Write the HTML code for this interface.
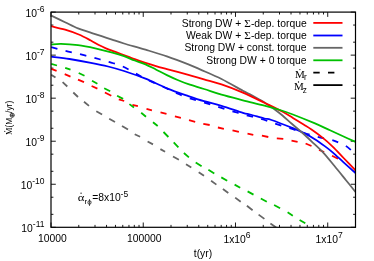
<!DOCTYPE html><html><head><meta charset="utf-8"><style>html,body{margin:0;padding:0;background:#fff}svg{display:block;will-change:transform}</style></head><body><svg width="374" height="261" viewBox="0 0 374 261">
<rect width="374" height="261" fill="#fff"/>
<defs><clipPath id="c"><rect x="51.0" y="12.1" width="304.5" height="215.2"/></clipPath></defs>
<path d="M51.00,227.30 v-4.80 M51.00,12.10 v4.80 M78.77,227.30 v-2.40 M78.77,12.10 v2.40 M95.01,227.30 v-2.40 M95.01,12.10 v2.40 M106.54,227.30 v-2.40 M106.54,12.10 v2.40 M115.48,227.30 v-2.40 M115.48,12.10 v2.40 M122.78,227.30 v-2.40 M122.78,12.10 v2.40 M128.96,227.30 v-2.40 M128.96,12.10 v2.40 M134.30,227.30 v-2.40 M134.30,12.10 v2.40 M139.02,227.30 v-2.40 M139.02,12.10 v2.40 M143.24,227.30 v-4.80 M143.24,12.10 v4.80 M171.01,227.30 v-2.40 M171.01,12.10 v2.40 M187.26,227.30 v-2.40 M187.26,12.10 v2.40 M198.78,227.30 v-2.40 M198.78,12.10 v2.40 M207.72,227.30 v-2.40 M207.72,12.10 v2.40 M215.02,227.30 v-2.40 M215.02,12.10 v2.40 M221.20,227.30 v-2.40 M221.20,12.10 v2.40 M226.55,227.30 v-2.40 M226.55,12.10 v2.40 M231.27,227.30 v-2.40 M231.27,12.10 v2.40 M235.49,227.30 v-4.80 M235.49,12.10 v4.80 M263.26,227.30 v-2.40 M263.26,12.10 v2.40 M279.50,227.30 v-2.40 M279.50,12.10 v2.40 M291.02,227.30 v-2.40 M291.02,12.10 v2.40 M299.96,227.30 v-2.40 M299.96,12.10 v2.40 M307.27,227.30 v-2.40 M307.27,12.10 v2.40 M313.44,227.30 v-2.40 M313.44,12.10 v2.40 M318.79,227.30 v-2.40 M318.79,12.10 v2.40 M323.51,227.30 v-2.40 M323.51,12.10 v2.40 M327.73,227.30 v-4.80 M327.73,12.10 v4.80 M355.50,227.30 v-2.40 M355.50,12.10 v2.40 M51.00,227.30 h4.80 M355.50,227.30 h-4.80 M51.00,214.34 h2.40 M355.50,214.34 h-2.40 M51.00,197.22 h2.40 M355.50,197.22 h-2.40 M51.00,184.26 h4.80 M355.50,184.26 h-4.80 M51.00,171.30 h2.40 M355.50,171.30 h-2.40 M51.00,154.18 h2.40 M355.50,154.18 h-2.40 M51.00,141.22 h4.80 M355.50,141.22 h-4.80 M51.00,128.26 h2.40 M355.50,128.26 h-2.40 M51.00,111.14 h2.40 M355.50,111.14 h-2.40 M51.00,98.18 h4.80 M355.50,98.18 h-4.80 M51.00,85.22 h2.40 M355.50,85.22 h-2.40 M51.00,68.10 h2.40 M355.50,68.10 h-2.40 M51.00,55.14 h4.80 M355.50,55.14 h-4.80 M51.00,42.18 h2.40 M355.50,42.18 h-2.40 M51.00,25.06 h2.40 M355.50,25.06 h-2.40 M51.00,12.10 h4.80 M355.50,12.10 h-4.80" stroke="#000" stroke-width="0.9" fill="none"/>
<g clip-path="url(#c)" fill="none" stroke-width="1.8" stroke-linejoin="round">
<path d="M51.2,68.9 L56.6,70.8 M64.7,74.2 L70.5,76.6 M78.0,79.6 L84.0,82.2 M91.6,86.0 L97.4,88.6 M104.9,92.5 L111.3,95.7 M118.8,99.3 L124.2,101.0 M132.4,104.8 L137.9,106.1 M146.5,108.9 L151.9,110.4 M160.5,112.3 L166.5,113.8 M174.9,116.4 L180.9,117.9 M189.0,120.2 L195.2,121.8 M203.3,123.9 L209.7,125.0 M217.9,127.5 L223.9,128.8 M232.5,130.3 L238.9,131.8 M247.5,133.6 L253.3,134.8 M261.9,135.7 L268.3,137.0 M276.8,138.3 L283.3,138.9 M291.5,140.6 L297.6,141.9 M305.6,143.5 L311.5,146.0 M319.0,150.0 L324.2,152.0 M332.0,155.8 L338.0,158.7 " stroke="#ff0000"/>
<path d="M51.20,47.10 C53.50,47.72 60.37,49.65 65.00,50.80 C69.63,51.95 74.25,52.87 79.00,54.00 C83.75,55.13 88.83,56.37 93.50,57.60 C98.17,58.83 102.25,59.98 107.00,61.40 C111.75,62.82 117.10,64.02 122.00,66.10 C126.90,68.18 131.95,71.52 136.40,73.90 C140.85,76.28 143.97,78.13 148.70,80.40 C153.43,82.67 160.15,85.35 164.80,87.50 C169.45,89.65 172.48,91.52 176.60,93.30 C180.72,95.08 184.88,96.65 189.50,98.20 C194.12,99.75 199.52,101.15 204.30,102.60 C209.08,104.05 213.55,105.47 218.20,106.90 C222.85,108.33 227.55,109.83 232.20,111.20 C236.85,112.57 241.27,113.80 246.10,115.10 C250.93,116.40 256.43,117.60 261.20,119.00 C265.97,120.40 269.95,121.97 274.70,123.50 C279.45,125.03 284.88,126.63 289.70,128.20 C294.52,129.77 298.95,131.47 303.60,132.90 C308.25,134.33 312.90,135.62 317.60,136.80 C322.30,137.98 328.47,139.12 331.80,140.00 C335.13,140.88 335.33,141.13 337.60,142.10 C339.87,143.07 343.25,144.55 345.40,145.80 C347.55,147.05 348.82,148.23 350.50,149.60 C352.18,150.97 354.67,153.27 355.50,154.00" stroke="#0000ff" stroke-dasharray="6.45 8.4"/>
<path d="M51.2,74.7 L55.5,77.5 M62.6,82.2 L67.3,86.5 M73.3,92.5 L78.0,97.0 M84.0,101.8 L89.0,105.9 M96.3,111.3 L102.1,114.5 M109.2,118.8 L115.0,122.0 M122.0,125.9 L128.0,129.5 M134.7,134.2 L140.1,136.8 M147.6,141.5 L153.0,144.4 M160.4,149.1 L165.1,151.8 M173.0,156.5 L178.9,159.8 M186.0,164.2 L191.3,167.5 M198.7,172.2 L204.0,175.7 M211.1,180.7 L216.4,184.6 M222.9,189.0 L228.3,193.0 M235.2,197.6 L240.7,201.8 M246.9,205.8 L252.6,210.3 M258.6,214.6 L264.4,218.9 M270.4,223.6 L276.2,227.5 " stroke="#666666"/>
<path d="M51.2,63.9 L57.0,65.5 M65.2,67.8 L70.5,69.7 M78.7,73.0 L84.5,75.8 M92.0,80.7 L97.4,83.7 M104.2,88.2 L110.2,91.2 M117.1,95.7 L123.1,98.9 M129.4,104.1 L134.0,107.5 M141.2,112.7 L146.0,116.8 M153.0,122.2 L157.7,126.0 M163.5,132.0 L168.4,137.0 M173.7,142.3 L178.4,147.3 M183.9,153.0 L188.9,157.4 M195.7,162.4 L201.6,166.3 M208.4,169.8 L214.3,173.4 M221.3,177.4 L227.2,180.8 M234.6,184.6 L240.2,187.7 M247.6,191.4 L253.5,194.6 M260.8,198.5 L266.8,201.8 M274.1,205.0 L280.1,208.2 M287.6,212.3 L292.8,215.7 M299.6,220.0 L305.3,223.3 " stroke="#00c000"/>
<path d="M51.20,56.60 C54.25,57.00 62.88,57.97 69.50,59.00 C76.12,60.03 84.47,61.55 90.90,62.80 C97.33,64.05 102.58,65.13 108.10,66.50 C113.62,67.87 117.77,68.97 124.00,71.00 C130.23,73.03 138.35,75.82 145.50,78.70 C152.65,81.58 159.75,85.40 166.90,88.30 C174.05,91.20 182.22,93.95 188.40,96.10 C194.58,98.25 198.48,99.58 204.00,101.20 C209.52,102.82 215.02,103.85 221.50,105.80 C227.98,107.75 238.15,111.45 242.90,112.90 C247.65,114.35 246.42,113.57 250.00,114.50 C253.58,115.43 260.82,117.58 264.40,118.50 C267.98,119.42 266.75,118.38 271.50,120.00 C276.25,121.62 287.55,126.05 292.90,128.20 C298.25,130.35 300.02,131.12 303.60,132.90 C307.18,134.68 310.82,136.65 314.40,138.90 C317.98,141.15 322.02,144.12 325.10,146.40 C328.18,148.68 329.82,149.95 332.90,152.60 C335.98,155.25 339.83,158.90 343.60,162.30 C347.37,165.70 353.52,171.22 355.50,173.00" stroke="#0000ff"/>
<path d="M51.20,15.50 C53.50,16.62 60.53,20.05 65.00,22.20 C69.47,24.35 73.83,26.70 78.00,28.40 C82.17,30.10 86.07,31.10 90.00,32.40 C93.93,33.70 97.93,35.00 101.60,36.20 C105.27,37.40 108.27,38.38 112.00,39.60 C115.73,40.82 118.42,41.82 124.00,43.50 C129.58,45.18 138.35,47.57 145.50,49.70 C152.65,51.83 159.75,53.87 166.90,56.30 C174.05,58.73 182.88,62.12 188.40,64.30 C193.92,66.48 194.48,66.95 200.00,69.40 C205.52,71.85 214.35,75.43 221.50,79.00 C228.65,82.57 238.15,88.25 242.90,90.80 C247.65,93.35 247.48,92.98 250.00,94.30 C252.52,95.62 255.32,97.18 258.00,98.70 C260.68,100.22 263.42,101.68 266.10,103.40 C268.78,105.12 271.42,107.02 274.10,109.00 C276.78,110.98 279.25,112.83 282.20,115.30 C285.15,117.77 288.60,121.02 291.80,123.80 C295.00,126.58 298.12,129.08 301.40,132.00 C304.68,134.92 307.90,137.92 311.50,141.30 C315.10,144.68 319.17,148.18 323.00,152.30 C326.83,156.42 330.67,161.35 334.50,166.00 C338.33,170.65 342.50,175.87 346.00,180.20 C349.50,184.53 353.92,190.03 355.50,192.00" stroke="#666666"/>
<path d="M51.20,26.20 C53.52,26.78 60.50,28.32 65.10,29.70 C69.70,31.08 74.52,32.70 78.80,34.50 C83.08,36.30 87.37,38.70 90.80,40.50 C94.23,42.30 96.88,44.00 99.40,45.30 C101.92,46.60 103.02,47.12 105.90,48.30 C108.78,49.48 113.02,51.02 116.70,52.40 C120.38,53.78 125.00,55.47 128.00,56.60 C131.00,57.73 131.78,58.15 134.70,59.20 C137.62,60.25 141.95,61.75 145.50,62.90 C149.05,64.05 152.43,65.07 156.00,66.10 C159.57,67.13 161.50,67.63 166.90,69.10 C172.30,70.57 182.22,73.18 188.40,74.90 C194.58,76.62 198.48,77.82 204.00,79.40 C209.52,80.98 215.02,82.20 221.50,84.40 C227.98,86.60 235.75,89.53 242.90,92.60 C250.05,95.67 257.85,99.65 264.40,102.80 C270.95,105.95 277.45,108.98 282.20,111.50 C286.95,114.02 289.33,115.73 292.90,117.90 C296.47,120.07 300.50,122.57 303.60,124.50 C306.70,126.43 308.40,127.35 311.50,129.50 C314.60,131.65 318.63,134.52 322.20,137.40 C325.77,140.28 329.33,143.37 332.90,146.80 C336.47,150.23 339.83,154.07 343.60,158.00 C347.37,161.93 353.52,168.33 355.50,170.40" stroke="#ff0000"/>
<path d="M51.20,44.50 C52.82,44.38 56.43,43.70 60.90,43.80 C65.37,43.90 72.28,44.35 78.00,45.10 C83.72,45.85 89.47,47.05 95.20,48.30 C100.93,49.55 107.60,51.28 112.40,52.60 C117.20,53.92 120.28,54.88 124.00,56.20 C127.72,57.52 131.12,59.15 134.70,60.50 C138.28,61.85 141.92,62.77 145.50,64.30 C149.08,65.83 152.63,67.90 156.20,69.70 C159.77,71.50 163.33,73.38 166.90,75.10 C170.47,76.82 174.02,78.48 177.60,80.00 C181.18,81.52 184.00,82.70 188.40,84.20 C192.80,85.70 198.48,87.25 204.00,89.00 C209.52,90.75 215.02,92.82 221.50,94.70 C227.98,96.58 235.75,98.48 242.90,100.30 C250.05,102.12 258.22,103.98 264.40,105.60 C270.58,107.22 275.25,108.52 280.00,110.00 C284.75,111.48 287.17,112.30 292.90,114.50 C298.63,116.70 308.22,120.57 314.40,123.20 C320.58,125.83 325.13,128.08 330.00,130.30 C334.87,132.52 339.35,134.57 343.60,136.50 C347.85,138.43 353.52,141.00 355.50,141.90" stroke="#00c000"/>
</g>
<rect x="51.0" y="12.1" width="304.5" height="215.2" fill="none" stroke="#000" stroke-width="1.2"/>
<path d="M313.3,22.9 H342.5" stroke="#ff0000" stroke-width="1.8"/>
<path d="M313.3,35.5 H342.5" stroke="#0000ff" stroke-width="1.8"/>
<path d="M313.3,47.8 H342.5" stroke="#666666" stroke-width="1.8"/>
<path d="M313.3,60.3 H342.5" stroke="#00c000" stroke-width="1.8"/>
<path d="M313.3,72.7 H342.5" stroke="#000" stroke-width="1.8" stroke-dasharray="6.4 8.3"/>
<path d="M313.3,85.1 H342.5" stroke="#000" stroke-width="1.8"/>
<g style="font-family:'Liberation Sans',sans-serif" font-size="10.35" fill="#000">
<text x="44.5" y="16.6" text-anchor="end">10<tspan font-size="8.5" dy="-4.8">-6</tspan></text>
<text x="44.5" y="59.6" text-anchor="end">10<tspan font-size="8.5" dy="-4.8">-7</tspan></text>
<text x="44.5" y="102.7" text-anchor="end">10<tspan font-size="8.5" dy="-4.8">-8</tspan></text>
<text x="44.5" y="145.7" text-anchor="end">10<tspan font-size="8.5" dy="-4.8">-9</tspan></text>
<text x="44.5" y="188.8" text-anchor="end">10<tspan font-size="8.5" dy="-4.8">-10</tspan></text>
<text x="44.5" y="231.8" text-anchor="end">10<tspan font-size="8.5" dy="-4.8">-11</tspan></text>
<text x="52.5" y="241.6" text-anchor="middle">10000</text>
<text x="144.2" y="241.6" text-anchor="middle">100000</text>
<text x="237.0" y="242.7" text-anchor="middle">1x10<tspan font-size="8.5" dy="-4.8">6</tspan></text>
<text x="329.2" y="242.7" text-anchor="middle">1x10<tspan font-size="8.5" dy="-4.8">7</tspan></text>
<text x="203" y="256.7" text-anchor="middle">t(yr)</text>
<text x="306.7" y="26.5" text-anchor="end">Strong DW + <tspan style="font-family:'Liberation Serif',serif" font-size="11.3" dx="0.2">Σ</tspan>-dep. torque</text>
<text x="306.7" y="39.1" text-anchor="end">Weak DW + <tspan style="font-family:'Liberation Serif',serif" font-size="11.3" dx="0.2">Σ</tspan>-dep. torque</text>
<text x="306.6" y="51.2" text-anchor="end">Strong DW + const. torque</text>
<text x="306.6" y="63.5" text-anchor="end">Strong DW + 0 torque</text>
<text x="295.1" y="77.5" style="font-family:'Liberation Serif',serif" font-size="11">M</text>
<circle cx="299.9" cy="69.6" r="0.65"/>
<text x="303.9" y="80.2" font-size="8.2">r</text>
<text x="293.9" y="90" style="font-family:'Liberation Serif',serif" font-size="11">M</text>
<circle cx="298.5" cy="82" r="0.65"/>
<text x="302.8" y="92.8" font-size="8.2">z</text>
<text transform="translate(77.7,201.4) scale(1.16,1)" style="font-family:'Liberation Serif',serif" font-size="11">α</text>
<text x="84.5" y="203.6" font-size="8">rϕ</text>
<text x="92.3" y="201.4">=8x10</text>
<text x="120.6" y="197.1" font-size="8.5">-5</text>
<path d="M80.3,193.2 h1.6" stroke="#000" stroke-width="0.8"/>
<g transform="translate(11.8,135) rotate(-90)"><text x="0" y="0" font-size="8.4"><tspan style="font-family:'Liberation Serif',serif">M</tspan>(M<tspan dx="4.9">/yr)</tspan></text><circle cx="3.7" cy="-7.0" r="0.6"/>
<circle cx="19.76" cy="0.40" r="2.05" fill="none" stroke="#000" stroke-width="0.7"/><path d="M17.71,0.40 h4.10 M19.76,-1.65 v4.10" stroke="#000" stroke-width="0.7" fill="none"/></g>
</g>
</svg></body></html>
